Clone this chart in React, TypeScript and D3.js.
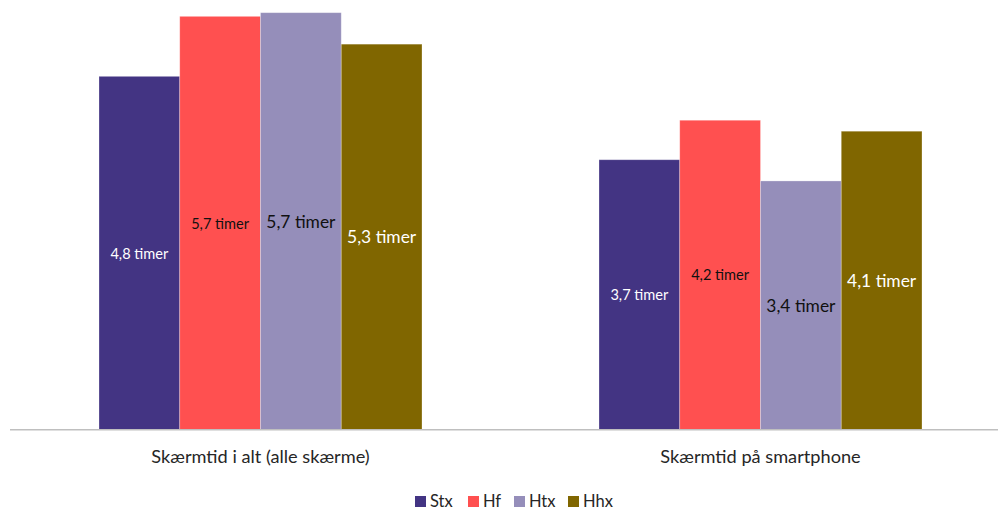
import React from "react";
import * as d3 from "d3";

const categories = ["Skærmtid i alt (alle skærme)", "Skærmtid på smartphone"];
const seriesNames = ["Stx", "Hf", "Htx", "Hhx"];
const seriesColors = ["#433483", "#FF5050", "#958EBA", "#806600"];
const labelColors = ["#ffffff", "#111111", "#111111", "#ffffff"];
const labelSizes = [14.6, 14.6, 17.4, 17.4];
const valuesStx = [4.83, 3.69];
const valuesHf = [5.65, 4.23];
const valuesHtx = [5.7, 3.4];
const valuesHhx = [5.27, 4.08];
const labelsStx = ["4,8 timer", "3,7 timer"];
const labelsHf = ["5,7 timer", "4,2 timer"];
const labelsHtx = ["5,7 timer", "3,4 timer"];
const labelsHhx = ["5,3 timer", "4,1 timer"];

const allValues = [valuesStx, valuesHf, valuesHtx, valuesHhx];
const allLabels = [labelsStx, labelsHf, labelsHtx, labelsHhx];

const W = 998;
const H = 510;
const FONT = "Lato, 'Open Sans', sans-serif";

export default function App() {
  const baseline = 429.7;
  const x0 = d3.scaleBand<string>().domain(categories).range([10.5, 1010.5]).paddingInner(0).paddingOuter(0);
  const groupW = 323;
  const x1 = d3.scaleBand<string>().domain(seriesNames).range([0, groupW]).padding(0);
  const y = d3.scaleLinear().domain([0, 6]).range([baseline, baseline - 6 * 73.16]);

  const legendX = [415, 468, 514, 568];

  return (
    <div style={{ position: "absolute", left: 0, top: 0 }}>
      <svg width={W} height={H} style={{ display: "block" }}>
        <rect x={0} y={0} width={W} height={H} fill="#ffffff" />
        {categories.map((c, ci) => {
          const gx = (x0(c) as number) + x0.bandwidth() / 2 - groupW / 2;
          return (
            <g key={c}>
              {seriesNames.map((s, si) => {
                const v = allValues[si][ci];
                const bx = gx + (x1(s) as number);
                const top = y(v);
                return (
                  <g key={s}>
                    <rect
                      x={bx}
                      y={top}
                      width={x1.bandwidth()}
                      height={baseline - top}
                      fill={seriesColors[si]}
                      stroke="#ffffff"
                      strokeOpacity={0.35}
                      strokeWidth={0.8}
                    />
                    <text
                      x={bx + x1.bandwidth() / 2}
                      y={(top + baseline) / 2}
                      textAnchor="middle"
                      dominantBaseline="central"
                      fontFamily={FONT}
                      fontSize={labelSizes[si]}
                      fill={labelColors[si]}
                    >
                      {allLabels[si][ci]}
                    </text>
                  </g>
                );
              })}
              <text
                x={(x0(c) as number) + x0.bandwidth() / 2}
                y={456}
                textAnchor="middle"
                dominantBaseline="central"
                fontFamily={FONT}
                fontSize={18.2}
                fill="#262626"
              >
                {c}
              </text>
            </g>
          );
        })}
        <line x1={10} x2={998} y1={baseline} y2={baseline} stroke="#BFBFBF" strokeWidth={1.5} />
        {seriesNames.map((s, si) => (
          <g key={s}>
            <rect x={legendX[si]} y={496} width={11} height={11} fill={seriesColors[si]} />
            <text
              x={legendX[si] + 15}
              y={501}
              dominantBaseline="central"
              fontFamily={FONT}
              fontSize={16.5}
              fill="#262626"
            >
              {s}
            </text>
          </g>
        ))}
      </svg>
    </div>
  );
}
